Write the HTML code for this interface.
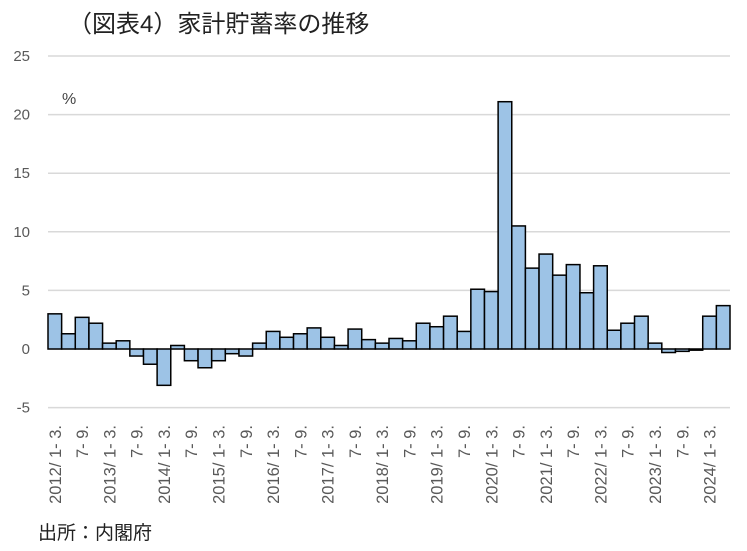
<!DOCTYPE html>
<html><head><meta charset="utf-8"><style>
body{margin:0;background:#fff;}
svg{display:block;font-family:"Liberation Sans","Noto Sans CJK JP",sans-serif;}
</style></head><body>
<svg id="s" width="747" height="551" viewBox="0 0 747 551" xmlns="http://www.w3.org/2000/svg">
<text x="68" y="32" font-size="24" fill="#222">（図表4）家計貯蓄率の推移</text>
<text x="62" y="104" font-size="16" fill="#444">%</text>
<text x="38" y="539" font-size="19" fill="#222">出所：内閣府</text>
<g id="g"></g>
</svg>
<script>
(function(){
var v=[3.0,1.3,2.7,2.2,0.5,0.7,-0.6,-1.3,-3.1,0.3,-1.0,-1.6,-1.0,-0.4,-0.6,0.5,1.5,1.0,1.3,1.8,1.0,0.3,1.7,0.8,0.5,0.9,0.7,2.2,1.9,2.8,1.5,5.1,4.9,21.1,10.5,6.9,8.1,6.3,7.2,4.8,7.1,1.6,2.2,2.8,0.5,-0.3,-0.2,-0.1,2.8,3.7];
var x0=48,x1=730,y0=349,u=11.72,w=(x1-x0)/50,h='';
for(var t=-5;t<=25;t+=5){var y=y0-t*u;h+='<line x1="'+x0+'" x2="'+x1+'" y1="'+y+'" y2="'+y+'" stroke="#d9d9d9" stroke-width="1.5"/>';
h+='<text x="30" y="'+(y+5)+'" font-size="15" fill="#595959" text-anchor="end">'+t+'</text>';}
for(var i=0;i<50;i++){var bx=x0+i*w,by=Math.min(y0,y0-v[i]*u),bh=Math.abs(v[i]*u);
h+='<rect x="'+bx+'" y="'+by+'" width="'+w+'" height="'+bh+'" fill="#9dc3e6" stroke="#000" stroke-width="1.5"/>';
if(i%2==0){var cx=bx+w/2+6,lab=(i%4==0)?(2012+i/4)+'/ 1- 3.':'7- 9.';
h+='<text transform="translate('+cx+',425) rotate(-90)" font-size="16.5" fill="#595959" text-anchor="end">'+lab+'</text>';}}
document.getElementById('g').innerHTML=h;
})();
</script>
</body></html>
